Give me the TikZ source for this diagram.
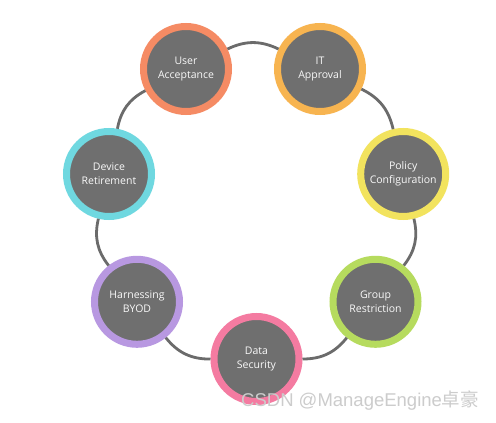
\documentclass[tikz,border=0pt]{standalone}
\usepackage{fontspec}
\setmainfont{Open Sans}
\newfontfamily\markfont{Liberation Sans}
\newfontfamily\cjkfont{Noto Sans CJK SC}
\usetikzlibrary{positioning}

\definecolor{stepgray}{HTML}{6F6F6F}
\definecolor{ringgray}{HTML}{6B6B6B}
\definecolor{uacolor}{HTML}{F58B64}
\definecolor{itcolor}{HTML}{F7B450}
\definecolor{pccolor}{HTML}{F2E35E}
\definecolor{grcolor}{HTML}{B6DB5E}
\definecolor{dscolor}{HTML}{F47BA1}
\definecolor{hbcolor}{HTML}{B898E1}
\definecolor{drcolor}{HTML}{6FD8E0}

\tikzset{
  stage/.style={circle, fill=stepgray, line width=7pt, minimum size=85pt, inner sep=0pt,
    align=center, text=white!95!gray, font=\fontsize{10.5}{14}\selectfont},
  ring/.style={draw=ringgray, line width=2.8pt}
}

\begin{document}
\begin{tikzpicture}[x=1pt, y=1pt]
\useasboundingbox (0,0) rectangle (496,423);
\fill [white] (0,0) rectangle (496,423);
\node (ua) at (186.0,354.0) [stage, draw=uacolor] {User\\Acceptance};
\node (it) at (320.0,354.0) [stage, draw=itcolor] {IT\\Approval};
\node (pc) at (403.2,249.0) [stage, draw=pccolor] {Policy\\Configuration};
\node (gr) at (375.5,121.2) [stage, draw=grcolor] {Group\\Restriction};
\node (ds) at (256.5,64.0) [stage, draw=dscolor] {Data\\Security};
\node (hb) at (137.0,121.2) [stage, draw=hbcolor] {Harnessing\\BYOD};
\node (dr) at (109.0,249.0) [stage, draw=drcolor] {Device\\Retirement};
\draw [ring] (ua) to [bend left=25.7] (it);
\draw [ring] (it) to [bend left=25.7] (pc);
\draw [ring] (pc) to [bend left=25.7] (gr);
\draw [ring] (gr) to [bend left=25.7] (ds);
\draw [ring] (ds) to [bend left=25.7] (hb);
\draw [ring] (hb) to [bend left=25.7] (dr);
\draw [ring] (dr) to [bend left=25.7] (ua);
\node (mark) at (241,22) [anchor=west, inner sep=0pt, text=gray!40,
  font=\markfont\fontsize{18.5}{20}\selectfont] {CSDN @ManageEngine{\cjkfont 卓豪}};
\end{tikzpicture}
\end{document}
